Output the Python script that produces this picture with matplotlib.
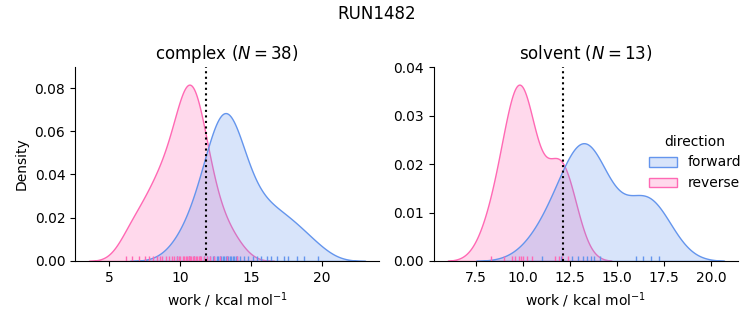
import matplotlib
matplotlib.use("Agg")
import matplotlib.pyplot as plt
import numpy as np
import pandas as pd
import seaborn as sns

# work values (kcal/mol)
complex_forward = [9.8, 10.6, 11.0, 11.4, 11.7, 11.9, 12.1, 12.3, 12.4, 12.6,
                   12.7, 12.8, 12.9, 13.0, 13.1, 13.2, 13.3, 13.4, 13.5, 13.6,
                   13.7, 13.8, 13.9, 14.0, 14.2, 14.5, 14.8, 15.1, 15.4, 15.7,
                   16.1, 16.4, 16.8, 17.3, 17.6, 18.2, 18.7, 19.7]
complex_reverse = [6.2, 6.6, 7.1, 7.5, 7.8, 8.1, 8.4, 8.6, 8.7, 9.0,
                   9.2, 9.4, 9.6, 9.8, 9.9, 10.0, 10.2, 10.3, 10.4, 10.5,
                   10.6, 10.6, 10.7, 10.8, 10.9, 11.0, 11.1, 11.2, 11.3, 11.4,
                   11.5, 11.7, 11.9, 12.1, 12.4, 12.8, 13.3, 14.0]
solvent_forward = [11.0, 12.0, 12.6, 12.9, 13.2, 13.4, 13.6, 13.8, 14.1, 16.0,
                   16.4, 16.8, 17.2]
solvent_reverse = [8.3, 9.0, 9.4, 9.6, 9.8, 9.9, 10.0, 10.2, 10.5, 11.7,
                   11.9, 12.1, 12.4]

# free energy estimates (dotted lines)
dg = {"complex": 11.85, "solvent": 12.15}

phases = ["complex", "solvent"]
palette = {"forward": "cornflowerblue", "reverse": "hotpink"}

rows = []
for phase, fwd, rev in [("complex", complex_forward, complex_reverse),
                        ("solvent", solvent_forward, solvent_reverse)]:
    rows += [(phase, "forward", w) for w in fwd]
    rows += [(phase, "reverse", w) for w in rev]
df = pd.DataFrame(rows, columns=["phase", "direction", "work"])

g = sns.displot(data=df, x="work", hue="direction", col="phase", kind="kde",
                fill=True, rug=True, palette=palette, col_order=phases,
                facet_kws=dict(sharex=False, sharey=False))

n = {"complex": len(complex_forward), "solvent": len(solvent_forward)}
for ax, phase in zip(g.axes.flat, phases):
    ax.axvline(dg[phase], color="k", ls=":", lw=1.5)
    ax.set_title(f"{phase} ($N={n[phase]}$)", fontsize=12)
    ax.set_xlabel("work / kcal mol$^{-1}$")
g.axes.flat[0].set_ylabel("Density")

fig = g.figure
fig.set_size_inches(7.53, 3.25)
fig.subplots_adjust(left=0.0996, right=0.98, bottom=0.197, top=0.794, wspace=0.18)
fig.suptitle("RUN1482", fontsize=12, y=0.985)
sns.move_legend(g, "center left", bbox_to_anchor=(0.845, 0.5), frameon=False)

fig.savefig("out.png", dpi=100)
